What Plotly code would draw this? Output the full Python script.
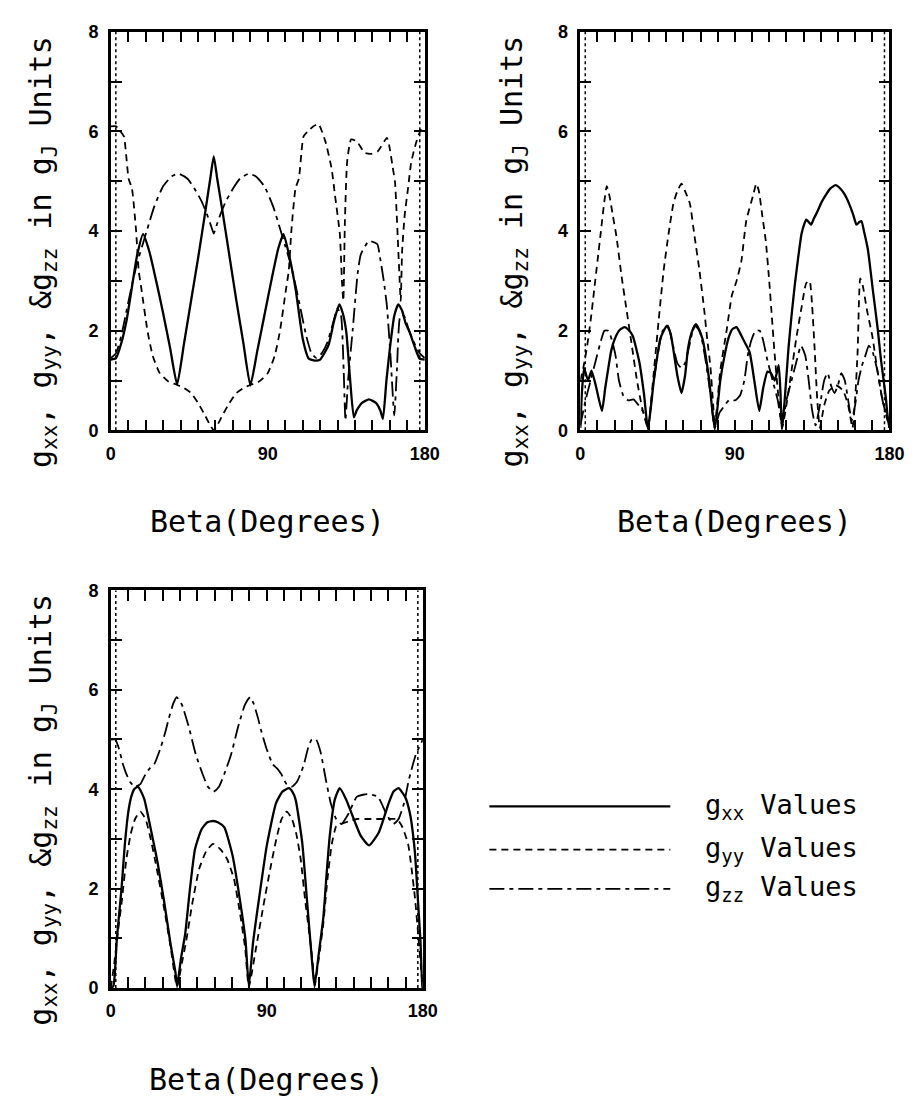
import plotly.graph_objects as go

# ---------------- data (beta in degrees, value in g_J units) ----------------
# Panel 1
P1_GXX = [(0,1.42),(3,1.45),(6,1.75),(9,2.2),(12,2.85),(15,3.5),(18.5,3.94),(22,3.6),(26,3.0),(30,2.35),
          (34,1.65),(38,0.92),(42,1.75),(46,2.6),(50,3.45),(54,4.35),(57,5.05),(59,5.5),(61,5.05),(64,4.4),
          (68,3.5),(72,2.6),(76,1.75),(80,0.9),(84,1.6),(88,2.3),(92,3.0),(96,3.65),(99,3.94),(102,3.55),
          (106,2.82),(110,1.84),(113.5,1.44),(117,1.4),(120,1.42),(124.8,1.71),(128,2.2),(131,2.53),(133,2.35),(135,1.97),
          (137,1.1),(139.3,0.26),(141,0.4),(144,0.55),(148,0.62),(152,0.55),(154.5,0.4),(156,0.23),(158,1.0),(160.2,1.71),
          (162.5,2.3),(164.8,2.53),(167,2.4),(169,2.15),(171.3,1.97),(174,1.7),(177,1.44),(180,1.42)]
P1_GYY = [(0,6.1),(3,6.1),(5.5,6.0),(7.5,5.9),(10.2,5.05),(12.1,4.86),(14.5,4.0),(16,3.2),(17.7,2.8),(21,2.0),
          (24,1.5),(28,1.15),(33,0.98),(37.5,0.92),(42,0.85),(46,0.75),(50,0.55),(54,0.3),(57,0.1),(59,0.0),
          (61,0.1),(64,0.3),(68,0.55),(72,0.75),(76,0.85),(80.5,0.92),(85,0.98),(90,1.15),(94,1.5),(97,2.0),
          (100.3,2.8),(102,3.2),(103.5,4.0),(105.9,4.86),(107.8,5.05),(110.5,5.9),(113,6.0),(116,6.1),(119,6.15),(123,5.8),
          (126.6,5.25),(128.5,4.72),(131.3,3.94),(132.5,3.0),(133.3,2.6),(134.2,4.2),(135.5,5.4),(137.8,5.84),(141,5.8),(145.6,5.57),
          (149.5,5.55),(153,5.6),(158.3,5.87),(160,5.64),(161.5,5.3),(162.9,4.99),(163.9,4.33),(165.4,3.15),(166.2,2.6),(167,3.6),
          (168.5,4.33),(170.4,4.86),(172.2,5.38),(175,5.77),(177.8,6.04),(180,6.1)]
P1_GZZ = [(0,1.45),(3,1.55),(6,1.9),(9,2.4),(12,2.9),(15,3.35),(18,3.7),(21,4.05),(25,4.5),(30,4.9),
          (35,5.1),(39,5.15),(44,5.05),(48,4.85),(52,4.6),(55,4.35),(57.5,4.1),(59,3.95),(60.5,4.1),(63,4.35),
          (66,4.6),(70,4.85),(74,5.05),(79,5.15),(83,5.1),(88,4.9),(93,4.5),(97,4.05),(100,3.7),(103,3.35),
          (106,2.9),(109,2.4),(112,1.9),(115,1.55),(118,1.45),(121,1.55),(124,1.75),(127,2.1),(130,2.45),(132,2.3),
          (133.5,1.2),(134.5,0.2),(136,1.0),(138.7,2.03),(141.5,3.15),(143.4,3.54),(148,3.8),(152.7,3.74),(154.6,3.41),(156.4,3.02),
          (158.3,2.49),(160.5,1.4),(162.5,0.3),(164,1.2),(166,2.3),(168,2.3),(171,2.0),(174,1.75),(177,1.55),(180,1.45)]

# Panel 2
P2_GXX = [(0,0.05),(1,0.8),(2.2,1.25),(4.5,1.0),(6.5,1.2),(9,0.9),(12.6,0.39),(14.5,0.85),(16.3,1.25),(18,1.6),
          (20.1,1.84),(23,2.02),(25.8,2.07),(28,2.02),(30.5,1.9),(34.3,1.38),(37.1,0.72),(39.4,0.02),(42.8,1.0),(46.6,1.84),
          (50.4,2.1),(52.5,1.95),(54.1,1.64),(56.5,1.1),(58.9,0.75),(61,1.1),(62.7,1.64),(65,1.98),(67.4,2.13),(71.1,1.84),
          (74.9,1.05),(78.3,0.02),(81.5,1.0),(84,1.5),(86.2,1.84),(88.5,2.03),(90.9,2.07),(93.8,1.9),(96,1.75),(98.6,1.57),
          (101.4,0.98),(104.2,0.39),(106.5,0.85),(109,1.18),(111,1.15),(113.2,1.0),(115.5,1.31),(116.5,0.8),(117.4,0.02),(119,0.6),
          (121.2,1.64),(123,2.3),(125,2.95),(127,3.5),(128.8,3.94),(130.5,4.15),(131.6,4.23),(133,4.18),(134.4,4.13),(136,4.25),
          (138.2,4.4),(140.5,4.58),(142.9,4.72),(145.5,4.85),(148.6,4.92),(151.5,4.85),(154.2,4.72),(156.5,4.55),(158.9,4.33),(160.8,4.13),
          (162.5,4.18),(163.7,4.2),(165.5,3.95),(167.5,3.62),(170.3,2.83),(173.2,2.03),(175,1.44),(177.9,0.66),(178.8,0.33),(180,0.05)]
P2_GYY = [(0,1.0),(2,1.3),(4,1.7),(6,2.2),(8,2.8),(10,3.4),(12,4.0),(14,4.6),(15.4,4.9),(17,4.7),
          (19,4.3),(21,3.9),(24,3.1),(27,2.4),(30,1.7),(33,1.0),(36,0.45),(39.4,0.05),(42.6,1.1),(45.6,2.2),
          (48.5,3.2),(51.4,3.95),(54.2,4.55),(56.5,4.8),(58.9,4.95),(61,4.8),(63.8,4.55),(66.5,3.9),(69.4,3.2),(72.2,2.4),
          (74,1.8),(75.7,1.3),(77.4,0.5),(78.3,0.05),(81.5,1.2),(85.4,2.05),(88.2,2.7),(91,3.0),(93.8,3.4),(96.6,4.2),
          (100.5,4.7),(102.5,4.95),(104,4.8),(106,4.3),(108,3.8),(110,3.0),(111.5,2.3),(113,1.6),(115,0.8),(117.5,0.05),
          (120,0.5),(123,1.2),(126,1.9),(129,2.5),(131.5,2.95),(133.5,3.0),(135,2.5),(136.5,1.6),(138,0.6),(139.5,0.05),
          (142,0.5),(145,0.8),(149,0.9),(153,0.8),(156,0.5),(158.5,0.05),(160,0.6),(161.5,1.6),(163,3.05),(164.5,2.9),
          (167,2.4),(170,1.9),(173,1.2),(176,0.6),(180,0.05)]
P2_GZZ = [(0,0.1),(3,0.6),(6,1.0),(9,1.4),(12,1.8),(14,2.0),(16.3,2.0),(18.5,1.8),(20.5,1.5),(22.5,1.0),
          (25,0.7),(28,0.6),(31,0.62),(34,0.5),(37,0.35),(39.4,0.05),(42,0.8),(45,1.5),(48,2.0),(51,2.1),
          (54,1.7),(56.5,1.35),(59,1.25),(61,1.35),(63.5,1.7),(66.5,2.1),(69.5,2.0),(72.5,1.5),(75.5,0.8),(78.3,0.05),
          (81,0.35),(84,0.5),(87,0.62),(90,0.6),(93,0.7),(95.5,1.0),(97.5,1.5),(99.5,1.8),(102,2.0),(104.5,2.0),
          (106.5,1.8),(109,1.4),(112,1.0),(115,0.6),(117.5,0.1),(120,0.6),(123,1.0),(126,1.4),(128.5,1.7),(131,1.5),
          (133,1.0),(135,0.4),(137,0.1),(140,0.6),(142,1.0),(144,1.15),(146,0.9),(148,0.75),(150,0.9),(152,1.15),
          (154,1.0),(156,0.6),(158,0.2),(160,0.5),(162,1.0),(164,1.3),(166,1.5),(168,1.7),(170,1.6),(173,1.2),
          (176,0.6),(180,0.1)]

# Panel 3
P3_GXX = [(0,0.0),(1.5,0.04),(3.5,1.0),(6.2,2.01),(8,2.85),(10,3.52),(11.8,3.85),(13.5,4.0),(15.6,4.05),(17.5,3.95),
          (19.4,3.79),(23.1,3.19),(26.9,2.54),(30.7,1.75),(34.4,0.9),(37.3,0.31),(38.2,0.04),(40.5,0.6),(42.9,1.09),(45.7,2.01),
          (48.6,2.8),(52.3,3.19),(55.5,3.33),(58.9,3.36),(62,3.33),(65.5,3.23),(70.2,2.67),(74,1.88),(77.7,0.96),(79.6,0.04),
          (82,0.9),(85.3,1.75),(90,2.87),(95.3,3.72),(99,3.95),(102.8,4.02),(104.7,3.95),(106.6,3.79),(110.4,2.93),(113.2,1.75),
          (116,0.57),(117.5,0.04),(120,0.7),(122.6,1.42),(124.5,2.3),(126.3,3.06),(129.2,3.79),(132,4.02),(135.8,3.79),(139.5,3.46),
          (144.2,3.06),(149,2.87),(154.6,3.13),(160.3,3.72),(163,3.95),(165.9,4.02),(169.7,3.85),(172.5,3.52),(175.4,2.74),(177.2,1.75),
          (178.6,0.96),(179.7,0.04),(180,0.0)]
P3_GYY = [(0,0.0),(2,0.5),(4,1.1),(6.5,1.8),(9,2.6),(11.5,3.1),(14,3.4),(17,3.55),(20,3.4),(23,3.0),
          (26.5,2.4),(30.5,1.65),(34.4,0.85),(38.2,0.02),(41,0.5),(43.5,0.95),(47,1.7),(51,2.4),(55,2.75),(59,2.9),
          (63,2.8),(67,2.6),(71,2.2),(75,1.4),(77.5,0.8),(79.6,0.02),(84,0.85),(88,1.65),(92,2.4),(95.5,3.0),
          (98.5,3.4),(101.5,3.55),(104.5,3.4),(107,3.1),(109.5,2.6),(112,1.8),(114.5,1.1),(116.5,0.5),(117.5,0.02),(120,0.6),
          (122.6,1.3),(125,2.2),(127.5,2.9),(130,3.25),(133,3.3),(137,3.35),(142,3.4),(147,3.4),(152,3.4),(157,3.4),
          (161,3.4),(165,3.4),(168,3.25),(171.5,2.9),(173.5,2.4),(175.5,1.8),(177.5,1.0),(179.2,0.3),(180,0.0)]
P3_GZZ = [(0,5.0),(2.5,5.0),(4.5,4.84),(7,4.5),(8.5,4.35),(11,4.15),(14,4.05),(17,4.1),(20,4.3),(22.5,4.42),
          (25,4.5),(28.8,4.84),(31.6,5.17),(33.5,5.43),(36,5.72),(38,5.85),(41,5.7),(45,5.25),(49,4.7),(53,4.3),
          (56,4.05),(59.2,3.95),(62.4,4.05),(65.4,4.3),(69.4,4.7),(73.4,5.25),(77.4,5.7),(80.4,5.85),(82.4,5.72),(84.9,5.43),
          (86.8,5.17),(89.6,4.84),(93.4,4.5),(95.9,4.42),(98.4,4.3),(101.4,4.1),(104.4,4.05),(107.4,4.15),(109.9,4.35),(111.4,4.5),
          (113.9,4.84),(115.9,5.0),(118.4,5.0),(121,4.75),(124,4.2),(127,3.7),(130,3.4),(133,3.3),(137,3.5),(142,3.85),
          (148,3.9),(154,3.85),(159,3.5),(163,3.3),(166,3.4),(169,3.7),(172,4.2),(176,4.7),(180,5.0)]

X_MAJOR = [0, 90, 180]
X_MINOR = list(range(0, 181, 10))
Y_MAJOR = [0, 2, 4, 6, 8]
Y_MINOR = list(range(0, 9))
SERIES_NAMES = ["g<sub>xx</sub> Values", "g<sub>yy</sub> Values", "g<sub>zz</sub> Values"]
X_TITLE = "Beta(Degrees)"
Y_TITLE = "g<sub>xx</sub>, g<sub>yy</sub>, &g<sub>zz</sub> in g<sub>J</sub> Units"

# ---------------- styles ----------------
W, H = 915, 1098
STYLES = [dict(color="black", width=2.3, dash="solid"),
          dict(color="black", width=1.8, dash="7px,5px"),
          dict(color="black", width=1.8, dash="15px,5px,4px,5px")]
MONO = "DejaVu Sans Mono"

fig = go.Figure()
panels = [(P1_GXX, P1_GYY, P1_GZZ), (P2_GXX, P2_GYY, P2_GZZ), (P3_GXX, P3_GYY, P3_GZZ)]
for pi, series in enumerate(panels):
    sfx = "" if pi == 0 else str(pi + 1)
    for si, pts in enumerate(series):
        xs = [p[0] for p in pts]
        ys = [p[1] for p in pts]
        fig.add_trace(go.Scatter(x=xs, y=ys, mode="lines", xaxis="x" + sfx, yaxis="y" + sfx,
                                 line=dict(shape="spline", smoothing=0.5, **STYLES[si]),
                                 showlegend=False, hoverinfo="skip"))

def px_x(v):
    return v / W

def px_y(v):
    return 1 - v / H

tickfont = dict(family="Liberation Sans", size=18, color="black", weight="bold")
minor_style = dict(ticks="inside", ticklen=11, tickwidth=2, tickcolor="black", showgrid=False)

def xax(dom, anchor):
    return dict(domain=dom, anchor=anchor, range=[0, 180], showline=True, linecolor="black", linewidth=2.5,
                mirror="allticks", ticks="inside", ticklen=11, tickwidth=2, tickcolor="black",
                tickmode="array", tickvals=X_MAJOR, tickfont=tickfont,
                minor=dict(tickmode="array", tickvals=X_MINOR, **minor_style),
                showgrid=False, zeroline=False, ticklabelstandoff=5, fixedrange=True)

def yax(dom, anchor):
    return dict(domain=dom, anchor=anchor, range=[0, 8], showline=True, linecolor="black", linewidth=2.5,
                mirror="allticks", ticks="inside", ticklen=11, tickwidth=2, tickcolor="black",
                tickmode="array", tickvals=Y_MAJOR, tickfont=tickfont,
                minor=dict(tickmode="array", tickvals=Y_MINOR, **minor_style),
                showgrid=False, zeroline=False, ticklabelstandoff=6, fixedrange=True)

top_dom = [px_y(420), px_y(14)]
bot_dom = [px_y(988), px_y(583)]
fig.update_layout(
    width=W, height=H, margin=dict(l=0, r=0, t=0, b=0),
    paper_bgcolor="white", plot_bgcolor="white",
    xaxis=xax([px_x(100), px_x(421)], "y"), yaxis=yax(top_dom, "x"),
    xaxis2=xax([px_x(580), px_x(896)], "y2"), yaxis2=yax(top_dom, "x2"),
    xaxis3=xax([px_x(100), px_x(419)], "y3"), yaxis3=yax(bot_dom, "x3"),
)

# dotted inner edge lines (as in the scanned frame)
shapes = []
for sfx in ["", "2", "3"]:
    for xd in (0.016, 0.984):
        shapes.append(dict(type="line", xref="x" + sfx + " domain", yref="y" + sfx + " domain",
                           x0=xd, x1=xd, y0=0, y1=1, line=dict(color="black", width=1.5, dash="dot")))

# legend drawn as long sample lines
leg_y = [803, 847, 887]
for si in range(3):
    shapes.append(dict(type="line", xref="paper", yref="paper", x0=px_x(487), x1=px_x(672),
                       y0=px_y(leg_y[si]), y1=px_y(leg_y[si]), line=STYLES[si]))
fig.update_layout(shapes=shapes)

ann = []
titlefont = dict(family=MONO, size=30, color="black")
for cx, cy in [(260, 513), (738, 513), (259, 1081)]:
    ann.append(dict(text=X_TITLE, x=px_x(cx), y=px_y(cy), xref="paper", yref="paper",
                    showarrow=False, xanchor="center", yanchor="middle", font=titlefont))
for cx, cy in [(30, 238), (512, 238), (30, 806)]:
    ann.append(dict(text=Y_TITLE, x=px_x(cx), y=px_y(cy), xref="paper", yref="paper", textangle=-90,
                    showarrow=False, xanchor="center", yanchor="middle", font=titlefont))
for si in range(3):
    ann.append(dict(text=SERIES_NAMES[si], x=px_x(705), y=px_y(leg_y[si]), xref="paper", yref="paper",
                    showarrow=False, xanchor="left", yanchor="middle",
                    font=dict(family=MONO, size=27, color="black")))
fig.update_layout(annotations=ann)

fig.write_html("out.html")
